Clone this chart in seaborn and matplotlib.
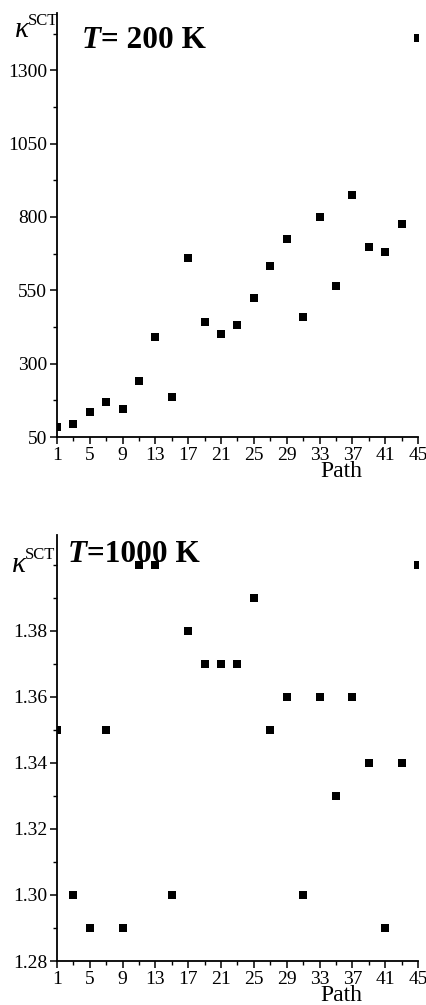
import matplotlib
matplotlib.use("Agg")
import matplotlib.pyplot as plt
import seaborn as sns
import pandas as pd
from matplotlib.ticker import FixedLocator

# path index (odd paths 1..45)
paths = list(range(1, 46, 2))
path_ticks = list(range(1, 46, 4))
path_minor = list(range(3, 45, 4))

# transmission coefficient at 200 K
kappa_200 = [83, 96, 134, 170, 147, 241, 391, 188, 659, 441, 401, 432,
             523, 634, 725, 459, 800, 566, 874, 699, 682, 776, 1411]

# transmission coefficient at 1000 K
kappa_1000 = [1.35, 1.30, 1.29, 1.35, 1.29, 1.40, 1.40, 1.30, 1.38, 1.37, 1.37, 1.37,
              1.39, 1.35, 1.36, 1.30, 1.36, 1.33, 1.36, 1.34, 1.29, 1.34, 1.40]

sns.set_theme(style="ticks")
plt.rcParams["font.family"] = ["Liberation Serif", "DejaVu Serif"]
plt.rcParams["text.color"] = "black"
plt.rcParams["axes.labelcolor"] = "black"

W, H = 427, 1005
fig = plt.figure(figsize=(W / 100, H / 100), dpi=100)


def px(x, y):
    return x / W, 1 - y / H


def panel(rect, y, ylim, major, minor, yfmt):
    ax = fig.add_axes(rect)
    df = pd.DataFrame({"path": paths, "kappa": y})
    sns.scatterplot(data=df, x="path", y="kappa", marker="s", color="black",
                    s=32, linewidth=0, ax=ax)
    ax.set_xlim(1, 45)
    ax.set_ylim(*ylim)
    ax.xaxis.set_major_locator(FixedLocator(path_ticks))
    ax.xaxis.set_minor_locator(FixedLocator(path_minor))
    ax.yaxis.set_major_locator(FixedLocator(major))
    ax.yaxis.set_minor_locator(FixedLocator(minor))
    ax.yaxis.set_major_formatter(yfmt)
    for s in ("top", "right"):
        ax.spines[s].set_visible(False)
    for s in ("left", "bottom"):
        ax.spines[s].set_linewidth(1.3)
        ax.spines[s].set_color("black")
    ax.tick_params(which="major", direction="out", length=5, width=1.1,
                   labelsize=14, pad=2, colors="black")
    ax.tick_params(which="minor", direction="out", length=3, width=1.0, colors="black")
    ax.set_ylabel("")
    ax.set_xlabel("Path", fontsize=17, ha="left", va="baseline")
    return ax


left, right = 57 / W, 418 / W

ax1 = panel([left, 1 - 437 / H, right - left, 424 / H], kappa_200, (50, 1495),
            [50, 300, 550, 800, 1050, 1300],
            [175, 425, 675, 925, 1175, 1425],
            lambda v, p: f"{v:.0f}")
ax1.xaxis.set_label_coords((320 - 57) / 361, -(477 - 437) / 424)

ax2 = panel([left, 1 - 961 / H, right - left, 426 / H], kappa_1000, (1.28, 1.409),
            [1.28, 1.30, 1.32, 1.34, 1.36, 1.38],
            [1.29, 1.31, 1.33, 1.35, 1.37, 1.39, 1.40],
            lambda v, p: f"{v:.2f}")
ax2.xaxis.set_label_coords((320 - 57) / 361, -(1001 - 961) / 426)

# y labels (kappa^SCT) and temperature captions
for kx, ky, sx, sy in [(15, 37, 28, 25), (12, 572, 25, 559)]:
    fig.text(*px(kx, ky), "\u03ba", fontsize=21, fontstyle="italic", va="baseline")
    fig.text(*px(sx, sy), "SCT", fontsize=12, va="baseline")

for tx, ex, by, rest in [(82, 101, 48, "= 200 K"), (68, 87, 562, "=1000 K")]:
    fig.text(*px(tx, by), "T", fontsize=22.5, fontweight="bold",
             fontstyle="italic", va="baseline")
    fig.text(*px(ex, by), rest, fontsize=22.5, fontweight="bold", va="baseline")

fig.savefig("out.png", dpi=100)
